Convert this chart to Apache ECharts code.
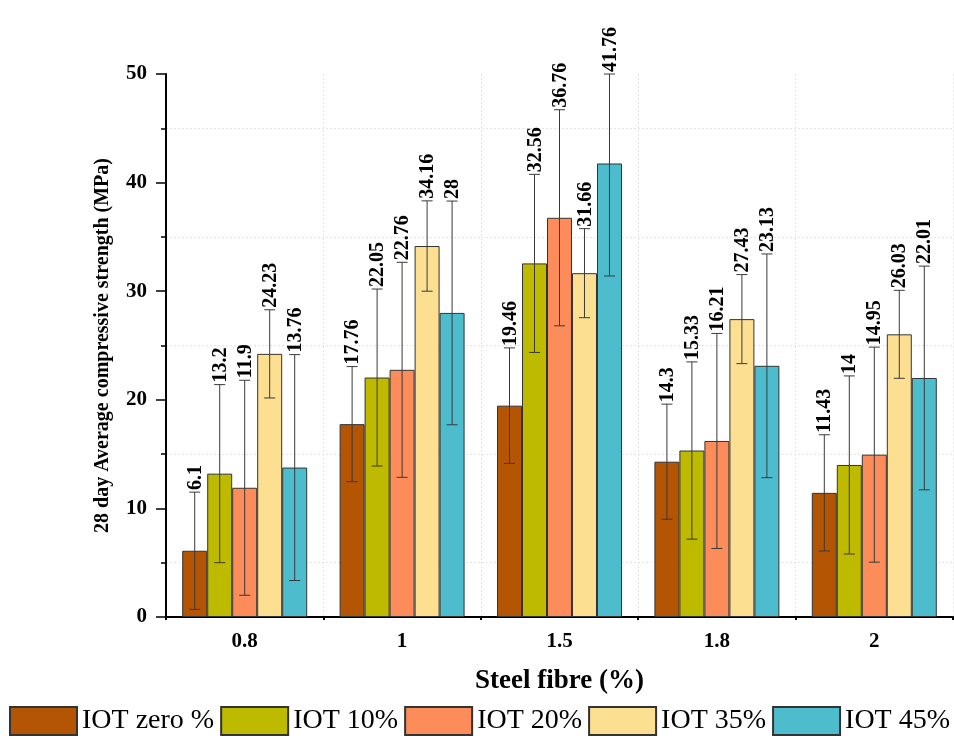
<!DOCTYPE html>
<html>
<head>
<meta charset="utf-8">
<script src="https://cdn.jsdelivr.net/npm/echarts@6/dist/echarts.min.js"></script>
<style>html,body{margin:0;padding:0;background:#fff}#c{width:954px;height:739px}</style>
</head>
<body>
<div id="c"></div>
<script>
// ---- data ----
const categories = ['0.8', '1', '1.5', '1.8', '2'];
const seriesNames = ['IOT zero %', 'IOT 10%', 'IOT 20%', 'IOT 35%', 'IOT 45%'];
const iotZero = [6.1, 17.76, 19.46, 14.3, 11.43];
const iot10 = [13.2, 22.05, 32.56, 15.33, 14];
const iot20 = [11.9, 22.76, 36.76, 16.21, 14.95];
const iot35 = [24.23, 34.16, 31.66, 27.43, 26.03];
const iot45 = [13.76, 28, 41.76, 23.13, 22.01];
const errZero = [5.4, 5.3, 5.32, 5.3, 5.35];
const err10 = [8.2, 8.15, 8.2, 8.16, 8.2];
const err20 = [9.9, 9.9, 9.95, 9.9, 9.9];
const err35 = [4.06, 4.16, 4.1, 4.1, 4.05];
const err45 = [10.4, 10.3, 10.36, 10.3, 10.3];
const yMin = 0, yMax = 50, yStep = 10;

// ---- styling ----
const colors = ['#B35503', '#BDBA00', '#FC8C5A', '#FDDF92', '#4DBDCE'];
const FONT = "'Liberation Serif', 'Times New Roman', serif";
const CAT_GAP = 0.206;
const values = [iotZero, iot10, iot20, iot35, iot45];
const errors = [errZero, err10, err20, err35, err45];
const NS = values.length;

const series = [];
values.forEach((vals, k) => {
  series.push({
    name: seriesNames[k],
    type: 'bar',
    data: vals,
    barGap: '0%',
    barCategoryGap: (CAT_GAP * 100) + '%',
    itemStyle: { color: colors[k], borderColor: '#333', borderWidth: 1 },
    z: 2
  });
});
values.forEach((vals, k) => {
  series.push({
    type: 'custom',
    name: 'err' + k,
    data: vals.map((v, i) => [i, v, errors[k][i]]),
    encode: { x: 0, y: 1 },
    z: 5,
    silent: true,
    renderItem: function (params, api) {
      const ci = api.value(0), v = api.value(1), e = api.value(2);
      const c = api.coord([ci, v]);
      const band = api.size([1, 0])[0];
      const bw = band * (1 - CAT_GAP) / NS;
      const x = c[0] + (k - (NS - 1) / 2) * bw;
      const yTopLimit = api.coord([ci, yMax])[1];
      const yTop = Math.max(api.coord([ci, v + e])[1], yTopLimit);
      const yBot = api.coord([ci, Math.max(v - e, yMin)])[1];
      const cap = 5.5;
      const st = { stroke: '#3a3a3a', lineWidth: 1 };
      return {
        type: 'group',
        children: [
          { type: 'line', shape: { x1: x, y1: yTop, x2: x, y2: yBot }, style: st },
          { type: 'line', shape: { x1: x - cap, y1: yTop, x2: x + cap, y2: yTop }, style: st },
          { type: 'line', shape: { x1: x - cap, y1: yBot, x2: x + cap, y2: yBot }, style: st },
          { type: 'text', x: x + 1, y: yTop - 2, rotation: Math.PI / 2,
            style: { text: String(v), fontSize: 20, fontWeight: 'bold', fontFamily: FONT,
                     fill: '#000', align: 'left', verticalAlign: 'middle' } }
        ]
      };
    }
  });
});

const chart = echarts.init(document.getElementById('c'), null, { renderer: 'canvas' });
chart.setOption({
  animation: false,
  backgroundColor: '#fff',
  grid: { left: 166, right: 1, top: 74, bottom: 122, containLabel: false },
  legend: {
    data: seriesNames,
    left: 9, top: 706, width: 945,
    padding: 0,
    itemWidth: 67, itemHeight: 28, itemGap: 6,
    icon: 'rect',
    textStyle: { fontSize: 28, fontFamily: FONT, color: '#000' }
  },
  xAxis: [{
    type: 'category',
    data: categories,
    name: 'Steel fibre (%)',
    nameLocation: 'middle',
    nameGap: 51,
    nameTextStyle: { fontSize: 27, fontWeight: 'bold', fontFamily: FONT, color: '#000' },
    axisLine: { lineStyle: { color: '#000', width: 2 } },
    axisTick: { alignWithLabel: true, length: 8, lineStyle: { color: '#000', width: 2 } },
    axisLabel: { margin: 14, fontSize: 21, fontWeight: 'bold', fontFamily: FONT, color: '#000' },
    splitLine: { show: true, interval: 0, lineStyle: { color: '#e4e4e4', type: [2, 2], width: 1 } }
  }, {
    type: 'category',
    data: categories,
    position: 'bottom',
    axisLine: { show: false },
    axisTick: { show: true, length: 3, lineStyle: { color: '#000', width: 2 } },
    axisLabel: { show: false },
    splitLine: { show: false }
  }],
  yAxis: {
    type: 'value',
    min: yMin, max: yMax, interval: yStep,
    name: '28 day Average compressive strength (MPa)',
    nameLocation: 'middle',
    nameGap: 53,
    nameTextStyle: { fontSize: 20, fontWeight: 'bold', fontFamily: FONT, color: '#000' },
    axisLine: { show: true, lineStyle: { color: '#000', width: 2 } },
    axisTick: { show: true, length: 10, lineStyle: { color: '#000', width: 1.5 } },
    minorTick: { show: true, splitNumber: 2, length: 5, lineStyle: { color: '#000', width: 1.5 } },
    axisLabel: { margin: 19, fontSize: 21, fontWeight: 'bold', fontFamily: FONT, color: '#000' },
    splitLine: { show: false },
    minorSplitLine: { show: true, lineStyle: { color: '#e4e4e4', type: [2, 2], width: 1 } }
  },
  series: series
});
</script>
</body>
</html>
